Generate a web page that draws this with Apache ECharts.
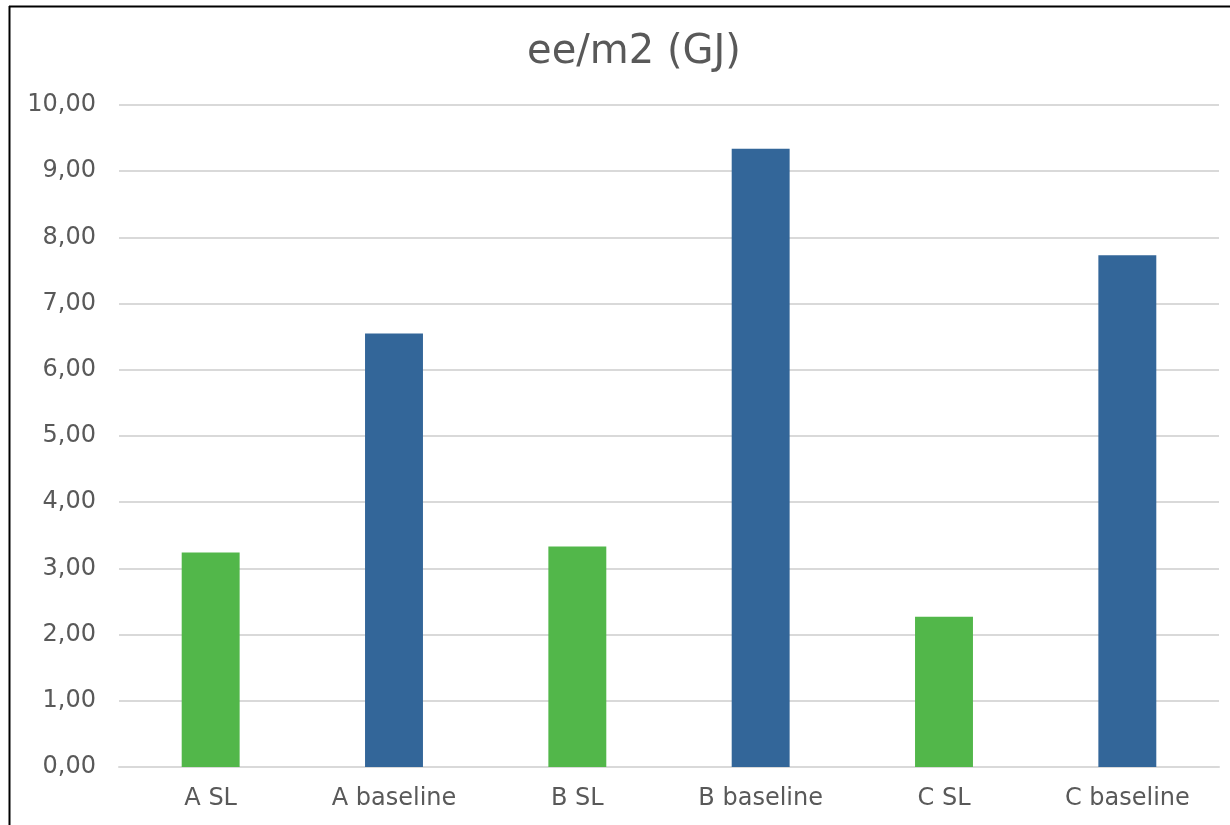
<!DOCTYPE html>
<html>
<head>
<meta charset="utf-8">
<script src="https://cdn.jsdelivr.net/npm/echarts@6/dist/echarts.min.js"></script>
<style>
html,body{margin:0;padding:0;background:#fff;}
#c{width:1230px;height:825px;}
</style>
</head>
<body>
<div id="c"></div>
<script>
const categories = ['A SL', 'A baseline', 'B SL', 'B baseline', 'C SL', 'C baseline'];
const values = [3.24, 6.55, 3.33, 9.34, 2.27, 7.73];
const barColors = ['#52b74a', '#336699', '#52b74a', '#336699', '#52b74a', '#336699'];
const titleText = 'ee/m2 (GJ)';

const chart = echarts.init(document.getElementById('c'));
chart.setOption({
  backgroundColor: '#fff',
  animation: false,
  title: {
    text: titleText,
    left: 629,
    textAlign: 'center',
    top: 28,
    textStyle: { fontFamily: 'DejaVu Sans', fontSize: 40, fontWeight: 'normal', color: '#595959' }
  },
  graphic: [
    { type: 'line', shape: { x1: 9.5, y1: 6, x2: 9.5, y2: 825 }, style: { stroke: '#000', lineWidth: 2 } },
    { type: 'line', shape: { x1: 9, y1: 6.5, x2: 1230, y2: 6.5 }, style: { stroke: '#000', lineWidth: 2 } }
  ],
  grid: { left: 119, right: 11, top: 105, bottom: 58, containLabel: false },
  xAxis: {
    type: 'category',
    data: categories,
    axisLine: { show: true, lineStyle: { color: '#d9d9d9', width: 2 } },
    axisTick: { show: false },
    axisLabel: { fontFamily: 'DejaVu Sans', fontSize: 24, color: '#595959', margin: 20 }
  },
  yAxis: {
    type: 'value',
    min: 0, max: 10, interval: 1,
    axisLine: { show: false },
    axisTick: { show: false },
    splitLine: { lineStyle: { color: '#d9d9d9', width: 2 } },
    axisLabel: {
      fontFamily: 'DejaVu Sans', fontSize: 24, color: '#595959', margin: 23,
      formatter: v => v.toFixed(2).replace('.', ',')
    }
  },
  series: [{
    type: 'bar',
    data: values.map((v, i) => ({ value: v, itemStyle: { color: barColors[i] } })),
    barWidth: '31.6%'
  }]
});
</script>
</body>
</html>
